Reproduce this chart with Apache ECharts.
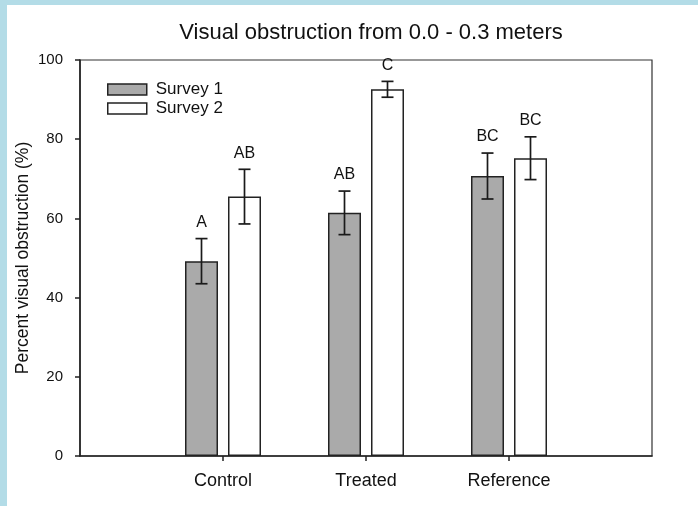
<!DOCTYPE html>
<html>
<head>
<meta charset="utf-8">
<script src="https://cdn.jsdelivr.net/npm/echarts@6/dist/echarts.min.js"></script>
<style>
  html, body { margin: 0; padding: 0; background: #ffffff; }
  #chart { width: 698px; height: 506px; }
</style>
</head>
<body>
<div id="chart"></div>
<script>
// Treatment groups (one empty slot at each end keeps the groups inset in the frame)
const groups = ['Control', 'Treated', 'Reference'];
const seriesNames = ['Survey 1', 'Survey 2'];

// Mean percent visual obstruction
const survey1 = [49.2, 61.4, 70.7];
const survey2 = [65.5, 92.6, 75.2];

// Standard error (half-length of each error bar)
const survey1Err = [5.7, 5.5, 5.8];
const survey2Err = [6.9, 2.0, 5.4];

// Significance letters above each bar
const survey1Letters = ['A', 'AB', 'BC'];
const survey2Letters = ['AB', 'C', 'BC'];

const yTicks = [0, 20, 40, 60, 80, 100];

const categories = [''].concat(groups, ['']);
const pad = arr => ['-'].concat(arr, ['-']);

const BAR_W = 33;
const BAR_GAP = 10;
const FONT = '"Liberation Sans", Arial, sans-serif';

// error bar + letter items: [categoryIndex, mean, err, letter, seriesIndex]
const errData = [];
groups.forEach((g, i) => {
  errData.push([i + 1, survey1[i], survey1Err[i], survey1Letters[i], 0]);
  errData.push([i + 1, survey2[i], survey2Err[i], survey2Letters[i], 1]);
});

function renderErr(params, api) {
  const cat = api.value(0);
  const mean = api.value(1);
  const err = api.value(2);
  const letter = errData[params.dataIndex][3];
  const which = errData[params.dataIndex][4];
  const offset = (which === 0 ? -1 : 1) * (BAR_W + BAR_GAP) / 2;
  const x = api.coord([cat, 0])[0] + offset;
  const yTop = api.coord([cat, mean + err])[1];
  const yBot = api.coord([cat, mean - err])[1];
  const cap = 6;
  const style = { stroke: '#1a1a1a', lineWidth: 1.7 };
  return {
    type: 'group',
    children: [
      { type: 'line', shape: { x1: x, y1: yTop, x2: x, y2: yBot }, style },
      { type: 'line', shape: { x1: x - cap, y1: yTop, x2: x + cap, y2: yTop }, style },
      { type: 'line', shape: { x1: x - cap, y1: yBot, x2: x + cap, y2: yBot }, style },
      {
        type: 'text',
        style: {
          text: letter, x: x, y: yTop - 8,
          align: 'center', verticalAlign: 'bottom',
          font: '16px ' + FONT, fill: '#111'
        }
      }
    ]
  };
}

const chart = echarts.init(document.getElementById('chart'), null, { renderer: 'canvas' });

chart.setOption({
  backgroundColor: '#ffffff',
  animation: false,
  graphic: [
    { type: 'rect', shape: { x: 0, y: 0, width: 698, height: 5 }, style: { fill: '#b3dce7' }, z: 100 },
    { type: 'rect', shape: { x: 0, y: 0, width: 7, height: 506 }, style: { fill: '#b3dce7' }, z: 100 }
  ],
  title: {
    text: 'Visual obstruction from 0.0 - 0.3 meters',
    left: 366,
    top: 17,
    textAlign: 'center',
    textStyle: { fontFamily: FONT, fontSize: 22, fontWeight: 'normal', color: '#111' }
  },
  legend: {
    data: seriesNames,
    orient: 'vertical',
    left: 102,
    top: 76,
    itemWidth: 39,
    itemHeight: 11,
    itemGap: 2,
    icon: 'rect',
    itemStyle: { borderColor: '#222', borderWidth: 1.5 },
    textStyle: { fontFamily: FONT, fontSize: 17, color: '#111', padding: [0, 0, 0, 4] }
  },
  grid: {
    left: 80, right: 46, top: 60, bottom: 50,
    show: true, borderColor: '#333', borderWidth: 1.2, backgroundColor: 'transparent'
  },
  xAxis: {
    type: 'category',
    data: categories,
    boundaryGap: false,
    axisLine: { lineStyle: { color: '#222', width: 1.6 } },
    axisTick: {
      length: 5,
      interval: (i) => i >= 1 && i <= groups.length,
      lineStyle: { color: '#222', width: 1.5 }
    },
    axisLabel: {
      interval: (i) => i >= 1 && i <= groups.length,
      margin: 16,
      fontFamily: FONT, fontSize: 18, color: '#111'
    },
    splitLine: { show: false }
  },
  yAxis: {
    type: 'value',
    min: yTicks[0],
    max: yTicks[yTicks.length - 1],
    interval: yTicks[1] - yTicks[0],
    name: 'Percent visual obstruction (%)',
    nameLocation: 'middle',
    nameGap: 48,
    nameMoveOverlap: false,
    nameTextStyle: { fontFamily: FONT, fontSize: 17.5, color: '#111' },
    axisLine: { show: true, lineStyle: { color: '#222', width: 1.6 } },
    axisTick: { show: true, length: 5, lineStyle: { color: '#222', width: 1.5 } },
    axisLabel: { margin: 17, fontFamily: FONT, fontSize: 15, color: '#111' },
    splitLine: { show: false }
  },
  series: [
    {
      name: seriesNames[0],
      type: 'bar',
      data: pad(survey1),
      barWidth: BAR_W,
      barGap: (BAR_GAP / BAR_W * 100) + '%',
      itemStyle: { color: '#aaaaaa', borderColor: '#222', borderWidth: 1.5 }
    },
    {
      name: seriesNames[1],
      type: 'bar',
      data: pad(survey2),
      barWidth: BAR_W,
      itemStyle: { color: '#ffffff', borderColor: '#222', borderWidth: 1.5 }
    },
    {
      type: 'custom',
      renderItem: renderErr,
      data: errData.map(d => [d[0], d[1], d[2]]),
      encode: { x: 0, y: 1 },
      z: 10
    }
  ]
});
</script>
</body>
</html>
